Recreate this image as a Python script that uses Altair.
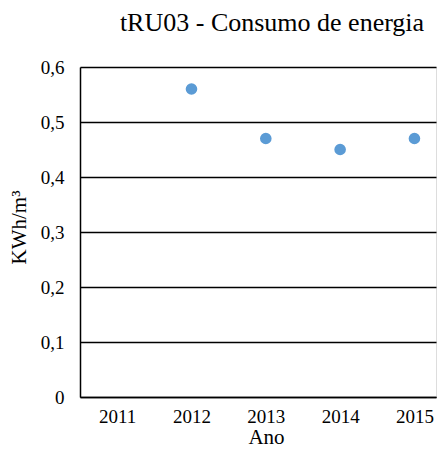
import altair as alt
import pandas as pd

years = [2011, 2012, 2013, 2014, 2015]
point_years = [2012, 2013, 2014, 2015]
consumo = [0.56, 0.47, 0.45, 0.47]
y_ticks = [0, 0.1, 0.2, 0.3, 0.4, 0.5, 0.6]

df = pd.DataFrame({"Ano": point_years, "Consumo": consumo})

FONT = "Liberation Serif, Times New Roman, serif"

chart = (
    alt.Chart(df)
    .mark_point(filled=True, size=135, color="#5B9BD5", opacity=1)
    .encode(
        x=alt.X(
            "Ano:Q",
            scale=alt.Scale(domain=[2010.5, 2015.29], nice=False, zero=False),
            axis=alt.Axis(
                values=years,
                format="d",
                grid=False,
                ticks=False,
                domain=True,
                domainColor="black",
                domainWidth=1.5,
                labelFont=FONT,
                labelFontSize=19,
                labelColor="black",
                labelPadding=10,
                title="Ano",
                titleFont=FONT,
                titleFontSize=21,
                titleFontWeight="normal",
                titleColor="black",
                titleX=186,
                titleY=46,
                titleBaseline="alphabetic",
            ),
        ),
        y=alt.Y(
            "Consumo:Q",
            scale=alt.Scale(domain=[0, 0.6], nice=False),
            axis=alt.Axis(
                values=y_ticks,
                labelExpr="datum.value == 0 ? '0' : replace(format(datum.value, '.1f'), '.', ',')",
                grid=True,
                gridColor="black",
                gridWidth=1.5,
                ticks=False,
                domain=True,
                domainColor="black",
                domainWidth=1.5,
                labelFont=FONT,
                labelFontSize=19,
                labelColor="black",
                labelPadding=16,
                title="KWh/m³",
                titleFont=FONT,
                titleFontSize=21,
                titleFontWeight="normal",
                titleColor="black",
                titleX=-61,
                titleY=160,
                titleAngle=-90,
                titleAlign="center",
                titleBaseline="middle",
            ),
        ),
    )
    .properties(
        width=356,
        height=330,
        autosize=alt.AutoSizeParams(type="none"),
        padding={"left": 72, "top": 59, "right": 1, "bottom": 52},
        title=alt.TitleParams(
            "tRU03 - Consumo de energia",
            font=FONT,
            fontSize=26,
            fontWeight="normal",
            color="black",
            anchor="middle",
            dx=14,
            offset=22,
        ),
    )
    .configure_view(stroke=None)
    .configure(background="white")
)

chart.save("out.html", embed_options={"renderer": "svg", "actions": False})
